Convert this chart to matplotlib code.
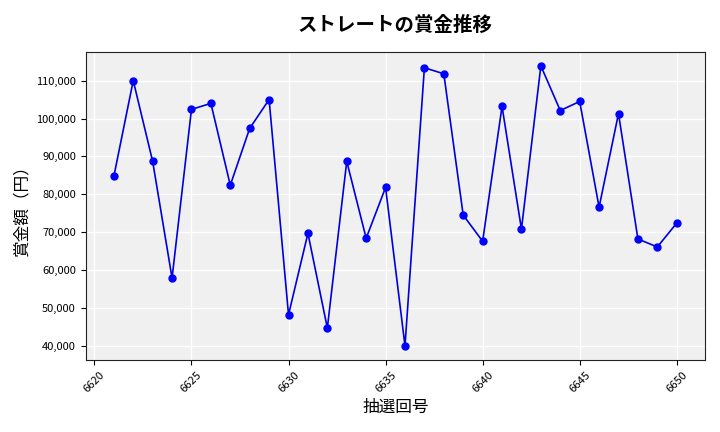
import matplotlib
matplotlib.use('Agg')
import matplotlib.pyplot as plt
from matplotlib.ticker import FuncFormatter

plt.rcParams['font.family'] = ['Noto Sans CJK JP', 'DejaVu Sans']

# 抽選回号と賞金額
draw_no = list(range(6621, 6651))
prize = [84700, 110000, 88700, 57900, 102400, 104000, 82400, 97400, 105000, 48200,
         69700, 44700, 88700, 68400, 81800, 40000, 113400, 111800, 74500, 67600,
         103200, 70800, 113900, 102100, 104500, 76600, 101300, 68200, 66100, 72400]

fig, ax = plt.subplots(figsize=(7.2, 4.32), dpi=100)
ax.set_facecolor('#f0f0f0')
ax.grid(True, color='white', linewidth=1)
ax.set_axisbelow(True)

ax.plot(draw_no, prize, color='#0000dd', marker='o', markersize=5,
        markerfacecolor='blue', markeredgecolor='blue', linewidth=1.2)

ax.set_title('ストレートの賞金推移', fontsize=14, fontweight='bold', pad=15)
ax.set_xlabel('抽選回号', fontsize=12, labelpad=3)
ax.set_ylabel('賞金額（円）', fontsize=12, labelpad=4)
ax.yaxis.set_major_formatter(FuncFormatter(lambda v, p: f'{int(v):,}'))
ax.tick_params(axis='both', labelsize=8)
plt.setp(ax.get_xticklabels(), rotation=45)

for s in ax.spines.values():
    s.set_color('#222222')

plt.subplots_adjust(left=0.119, right=0.979, top=0.880, bottom=0.167)
plt.savefig('out.png', dpi=100)
